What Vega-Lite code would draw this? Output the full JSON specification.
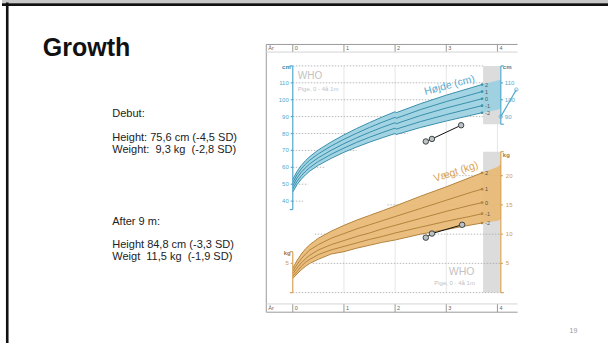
{
  "$schema": "https://vega.github.io/schema/vega-lite/v6.json",
  "width": 610,
  "height": 345,
  "autosize": {"type": "fit", "contains": "padding"},
  "padding": 0,
  "background": "white",
  "config": {"view": {"stroke": null}, "font": "Liberation Sans"},
  "datasets": {
    "height": [
      {"age": 0, "-2": 45.4, "-1": 47.3, "0": 49.1, "1": 51.0, "2": 52.9},
      {"age": 0.0833, "-2": 49.8, "-1": 51.7, "0": 53.7, "1": 55.6, "2": 57.6},
      {"age": 0.1667, "-2": 53.0, "-1": 55.0, "0": 57.1, "1": 59.1, "2": 61.1},
      {"age": 0.25, "-2": 55.6, "-1": 57.7, "0": 59.8, "1": 61.9, "2": 64.0},
      {"age": 0.3333, "-2": 57.8, "-1": 59.9, "0": 62.1, "1": 64.3, "2": 66.4},
      {"age": 0.5, "-2": 61.2, "-1": 63.5, "0": 65.7, "1": 68.0, "2": 70.3},
      {"age": 0.75, "-2": 65.3, "-1": 67.7, "0": 70.1, "1": 72.6, "2": 75.0},
      {"age": 1.0, "-2": 68.9, "-1": 71.4, "0": 74.0, "1": 76.6, "2": 79.2},
      {"age": 1.25, "-2": 72.0, "-1": 74.8, "0": 77.5, "1": 80.2, "2": 83.0},
      {"age": 1.5, "-2": 74.9, "-1": 77.8, "0": 80.7, "1": 83.6, "2": 86.5},
      {"age": 1.75, "-2": 77.5, "-1": 80.6, "0": 83.7, "1": 86.7, "2": 89.8},
      {"age": 2.0, "-2": 80.0, "-1": 83.2, "0": 86.4, "1": 89.6, "2": 92.9},
      {"age": 2.02, "-2": 79.4, "-1": 82.6, "0": 85.8, "1": 89.0, "2": 92.3},
      {"age": 2.5, "-2": 83.6, "-1": 87.1, "0": 90.7, "1": 94.2, "2": 97.7},
      {"age": 3.0, "-2": 87.4, "-1": 91.2, "0": 95.1, "1": 98.9, "2": 102.7},
      {"age": 3.5, "-2": 90.9, "-1": 95.0, "0": 99.0, "1": 103.1, "2": 107.2},
      {"age": 3.7, "-2": 92.3, "-1": 96.5, "0": 100.6, "1": 104.8, "2": 109.0},
      {"age": 4.0, "-2": 94.1, "-1": 98.4, "0": 102.7, "1": 107.0, "2": 111.3},
      {"age": 4.066, "-2": 94.6, "-1": 99.0, "0": 103.3, "1": 107.6, "2": 111.9}
    ],
    "weight": [
      {"age": 0, "-2": 2.4, "-1": 2.8, "0": 3.2, "1": 3.7, "2": 4.2},
      {"age": 0.0833, "-2": 3.2, "-1": 3.6, "0": 4.2, "1": 4.8, "2": 5.5},
      {"age": 0.1667, "-2": 3.9, "-1": 4.5, "0": 5.1, "1": 5.8, "2": 6.6},
      {"age": 0.25, "-2": 4.5, "-1": 5.2, "0": 5.8, "1": 6.6, "2": 7.5},
      {"age": 0.3333, "-2": 5.0, "-1": 5.7, "0": 6.4, "1": 7.3, "2": 8.2},
      {"age": 0.5, "-2": 5.7, "-1": 6.5, "0": 7.3, "1": 8.2, "2": 9.3},
      {"age": 0.75, "-2": 6.6, "-1": 7.3, "0": 8.2, "1": 9.3, "2": 10.5},
      {"age": 1.0, "-2": 7.0, "-1": 7.9, "0": 8.9, "1": 10.1, "2": 11.5},
      {"age": 1.25, "-2": 7.6, "-1": 8.5, "0": 9.6, "1": 10.9, "2": 12.4},
      {"age": 1.5, "-2": 8.1, "-1": 9.1, "0": 10.2, "1": 11.6, "2": 13.2},
      {"age": 1.75, "-2": 8.6, "-1": 9.6, "0": 10.9, "1": 12.3, "2": 14.0},
      {"age": 2.0, "-2": 9.0, "-1": 10.2, "0": 11.5, "1": 13.0, "2": 14.8},
      {"age": 2.5, "-2": 10.0, "-1": 11.2, "0": 12.7, "1": 14.4, "2": 16.5},
      {"age": 3.0, "-2": 10.8, "-1": 12.2, "0": 13.9, "1": 15.8, "2": 18.1},
      {"age": 3.5, "-2": 11.6, "-1": 13.1, "0": 15.0, "1": 17.2, "2": 19.8},
      {"age": 3.7, "-2": 11.9, "-1": 13.5, "0": 15.4, "1": 17.7, "2": 20.5},
      {"age": 4.0, "-2": 12.3, "-1": 14.0, "0": 16.1, "1": 18.5, "2": 21.5},
      {"age": 4.066, "-2": 12.5, "-1": 14.2, "0": 16.4, "1": 18.9, "2": 22.0}
    ]
  },
  "encoding": {
    "x": {"field": "age", "type": "quantitative", "scale": {"domain": [-5.6835, 6.1612], "nice": false, "zero": false}, "axis": null}
  },
  "resolve": {"scale": {"y": "independent"}},
  "layer": [
    {
      "data": {"values": [{"age": -5.6835, "age2": 6.1612, "cm": 158.1, "cm2": 158.1}]},
      "mark": {"type": "rule", "color": "#c8c8c8", "strokeWidth": 3},
      "encoding": {
        "x2": {"field": "age2"},
        "y": {"field": "cm", "type": "quantitative", "scale": {"domain": [-43.94, 159.0], "nice": false, "zero": false}, "axis": null},
        "y2": {"field": "cm2"}
      }
    },
    {
      "data": {"values": [
        {"age": -5.6835, "age2": 6.1612, "cm": 156.24, "cm2": 156.24},
        {"age": -5.581, "age2": -5.581, "cm": 157.5, "cm2": -43.94}
      ]},
      "mark": {"type": "rule", "color": "#111111", "strokeWidth": 2.6},
      "encoding": {
        "x2": {"field": "age2"},
        "y": {"field": "cm", "type": "quantitative", "scale": {"domain": [-43.94, 159.0], "nice": false, "zero": false}, "axis": null},
        "y2": {"field": "cm2"}
      }
    },
    {
      "data": {"values": [
        {"age": 1, "age2": 1, "cm": 120, "cm2": -14.1},
        {"age": 2, "age2": 2, "cm": 120, "cm2": -14.1},
        {"age": 3, "age2": 3, "cm": 120, "cm2": -14.1},
        {"age": 4, "age2": 4, "cm": 120, "cm2": -14.1}
      ]},
      "mark": {"type": "rule", "color": "#e6e6e6", "strokeWidth": 1},
      "encoding": {
        "x2": {"field": "age2"},
        "y": {"field": "cm", "type": "quantitative", "scale": {"domain": [-43.94, 159.0], "nice": false, "zero": false}, "axis": null},
        "y2": {"field": "cm2"}
      }
    },
    {
      "data": {"values": [
        {"age": -0.518, "age2": -0.518, "cm": 132.7, "cm2": -25.7},
        {"age": -0.518, "age2": 4.394, "cm": 132.7, "cm2": 132.7},
        {"age": 0, "age2": 0, "cm": 132.7, "cm2": 128.2},
        {"age": 1, "age2": 1, "cm": 132.7, "cm2": 128.2},
        {"age": 2, "age2": 2, "cm": 132.7, "cm2": 128.2},
        {"age": 3, "age2": 3, "cm": 132.7, "cm2": 128.2},
        {"age": 4, "age2": 4, "cm": 132.7, "cm2": 128.2}
      ]},
      "mark": {"type": "rule", "color": "#9a9a9a", "strokeWidth": 1},
      "encoding": {
        "x2": {"field": "age2"},
        "y": {"field": "cm", "type": "quantitative", "scale": {"domain": [-43.94, 159.0], "nice": false, "zero": false}, "axis": null},
        "y2": {"field": "cm2"}
      }
    },
    {
      "data": {"values": [
        {"age": -0.518, "age2": 4.394, "cm": 128.2, "cm2": 128.2}
      ]},
      "mark": {"type": "rule", "color": "#d4d4d4", "strokeWidth": 1},
      "encoding": {
        "x2": {"field": "age2"},
        "y": {"field": "cm", "type": "quantitative", "scale": {"domain": [-43.94, 159.0], "nice": false, "zero": false}, "axis": null},
        "y2": {"field": "cm2"}
      }
    },
    {
      "data": {"values": [
        {"age": -0.518, "age2": 4.394, "kg": -3.35, "kg2": -3.35},
        {"age": 0, "age2": 0, "kg": -1.94, "kg2": -3.35},
        {"age": 1, "age2": 1, "kg": -1.94, "kg2": -3.35},
        {"age": 2, "age2": 2, "kg": -1.94, "kg2": -3.35},
        {"age": 3, "age2": 3, "kg": -1.94, "kg2": -3.35},
        {"age": 4, "age2": 4, "kg": -1.94, "kg2": -3.35}
      ]},
      "mark": {"type": "rule", "color": "#9a9a9a", "strokeWidth": 1},
      "encoding": {
        "x2": {"field": "age2"},
        "y": {"field": "kg", "type": "quantitative", "scale": {"domain": [-8.62, 50.05], "nice": false, "zero": false}, "axis": null},
        "y2": {"field": "kg2"}
      }
    },
    {
      "data": {"values": [
        {"age": -0.518, "age2": 4.394, "kg": -1.94, "kg2": -1.94}
      ]},
      "mark": {"type": "rule", "color": "#d4d4d4", "strokeWidth": 1},
      "encoding": {
        "x2": {"field": "age2"},
        "y": {"field": "kg", "type": "quantitative", "scale": {"domain": [-8.62, 50.05], "nice": false, "zero": false}, "axis": null},
        "y2": {"field": "kg2"}
      }
    },
    {
      "data": {"values": [{"age": 3.72, "age2": 4.055, "cm": 85.5, "cm2": 120}]},
      "mark": {"type": "rect", "color": "#dcdcdc"},
      "encoding": {
        "x2": {"field": "age2"},
        "y": {"field": "cm", "type": "quantitative", "scale": {"domain": [-43.94, 159.0], "nice": false, "zero": false}, "axis": null},
        "y2": {"field": "cm2"}
      }
    },
    {
      "data": {"values": [{"age": 3.72, "age2": 4.055, "kg": 0, "kg2": 24.1}]},
      "mark": {"type": "rect", "color": "#dcdcdc"},
      "encoding": {
        "x2": {"field": "age2"},
        "y": {"field": "kg", "type": "quantitative", "scale": {"domain": [-8.62, 50.05], "nice": false, "zero": false}, "axis": null},
        "y2": {"field": "kg2"}
      }
    },
    {
      "data": {"values": [
        {"age": 0, "age2": 3.72, "cm": 120, "cm2": 120},
        {"age": 0, "age2": 3.72, "cm": 110, "cm2": 110},
        {"age": 0, "age2": 3.72, "cm": 100, "cm2": 100},
        {"age": 0, "age2": 3.72, "cm": 90, "cm2": 90},
        {"age": 0, "age2": 2.24, "cm": 80, "cm2": 80},
        {"age": 0, "age2": 1.25, "cm": 70, "cm2": 70},
        {"age": 0, "age2": 0.63, "cm": 60, "cm2": 60},
        {"age": 0, "age2": 0.3, "cm": 50, "cm2": 50},
        {"age": 0, "age2": 0.2, "cm": 40, "cm2": 40}
      ]},
      "mark": {"type": "rule", "color": "#a8a8a8", "strokeWidth": 0.8, "strokeDash": [1.5, 1.5]},
      "encoding": {
        "x2": {"field": "age2"},
        "y": {"field": "cm", "type": "quantitative", "scale": {"domain": [-43.94, 159.0], "nice": false, "zero": false}, "axis": null},
        "y2": {"field": "cm2"}
      }
    },
    {
      "data": {"values": [
        {"age": 0, "age2": 4.066, "kg": 0, "kg2": 0},
        {"age": 0.39, "age2": 4.066, "kg": 5, "kg2": 5},
        {"age": 0.43, "age2": 4.066, "kg": 10, "kg2": 10},
        {"age": 1.85, "age2": 4.066, "kg": 15, "kg2": 15},
        {"age": 2.9, "age2": 4.066, "kg": 20, "kg2": 20}
      ]},
      "mark": {"type": "rule", "color": "#a8a8a8", "strokeWidth": 0.8, "strokeDash": [1.5, 1.5]},
      "encoding": {
        "x2": {"field": "age2"},
        "y": {"field": "kg", "type": "quantitative", "scale": {"domain": [-8.62, 50.05], "nice": false, "zero": false}, "axis": null},
        "y2": {"field": "kg2"}
      }
    },
    {
      "data": {"name": "height"},
      "mark": {"type": "area", "color": "#98cfe1", "opacity": 0.9},
      "encoding": {
        "y": {"field": "-2", "type": "quantitative", "scale": {"domain": [-43.94, 159.0], "nice": false, "zero": false}, "axis": null},
        "y2": {"field": "2"}
      }
    },
    {
      "data": {"name": "height"},
      "transform": [
        {"filter": "datum.age <= 3.7"},
        {"fold": ["2", "1", "0", "-1", "-2"], "as": ["sd", "cm"]}
      ],
      "mark": {"type": "line", "color": "#3a8fab", "strokeWidth": 1},
      "encoding": {
        "y": {"field": "cm", "type": "quantitative", "scale": {"domain": [-43.94, 159.0], "nice": false, "zero": false}, "axis": null},
        "detail": {"field": "sd"}
      }
    },
    {
      "data": {"name": "height"},
      "transform": [
        {"filter": "datum.age == 3.7"},
        {"fold": ["2", "1", "0", "-1", "-2"], "as": ["sd", "cm"]}
      ],
      "layer": [
        {"mark": {"type": "point", "filled": true, "size": 7, "color": "#3a8fab", "opacity": 1}},
        {"mark": {"type": "text", "align": "left", "baseline": "middle", "dx": 3, "fontSize": 5.5, "color": "#555555"}, "encoding": {"text": {"field": "sd"}}}
      ],
      "encoding": {
        "y": {"field": "cm", "type": "quantitative", "scale": {"domain": [-43.94, 159.0], "nice": false, "zero": false}, "axis": null}
      }
    },
    {
      "data": {"name": "weight"},
      "mark": {"type": "area", "color": "#e8b873", "opacity": 0.92},
      "encoding": {
        "y": {"field": "-2", "type": "quantitative", "scale": {"domain": [-8.62, 50.05], "nice": false, "zero": false}, "axis": null},
        "y2": {"field": "2"}
      }
    },
    {
      "data": {"name": "weight"},
      "transform": [
        {"filter": "datum.age <= 3.7"},
        {"fold": ["2", "1", "0", "-1", "-2"], "as": ["sd", "kg"]}
      ],
      "mark": {"type": "line", "color": "#b4843e", "strokeWidth": 1},
      "encoding": {
        "y": {"field": "kg", "type": "quantitative", "scale": {"domain": [-8.62, 50.05], "nice": false, "zero": false}, "axis": null},
        "detail": {"field": "sd"}
      }
    },
    {
      "data": {"name": "weight"},
      "transform": [
        {"filter": "datum.age == 3.7"},
        {"fold": ["2", "1", "0", "-1", "-2"], "as": ["sd", "kg"]}
      ],
      "layer": [
        {"mark": {"type": "point", "filled": true, "size": 7, "color": "#b4843e", "opacity": 1}},
        {"mark": {"type": "text", "align": "left", "baseline": "middle", "dx": 3, "fontSize": 5.5, "color": "#555555"}, "encoding": {"text": {"field": "sd"}}}
      ],
      "encoding": {
        "y": {"field": "kg", "type": "quantitative", "scale": {"domain": [-8.62, 50.05], "nice": false, "zero": false}, "axis": null}
      }
    },
    {
      "data": {"values": [
        {"age": 0, "age2": 0, "cm": 35, "cm2": 120},
        {"age": 4.066, "age2": 4.066, "cm": 85.5, "cm2": 120},
        {"age": -0.058, "age2": 0, "cm": 120, "cm2": 120},
        {"age": -0.058, "age2": 0, "cm": 35, "cm2": 35},
        {"age": -0.04, "age2": 0, "cm": 110, "cm2": 110},
        {"age": -0.04, "age2": 0, "cm": 100, "cm2": 100},
        {"age": -0.04, "age2": 0, "cm": 90, "cm2": 90},
        {"age": -0.04, "age2": 0, "cm": 80, "cm2": 80},
        {"age": -0.04, "age2": 0, "cm": 70, "cm2": 70},
        {"age": -0.04, "age2": 0, "cm": 60, "cm2": 60},
        {"age": -0.04, "age2": 0, "cm": 50, "cm2": 50},
        {"age": -0.04, "age2": 0, "cm": 40, "cm2": 40},
        {"age": 4.066, "age2": 4.124, "cm": 120, "cm2": 120},
        {"age": 4.066, "age2": 4.124, "cm": 85.5, "cm2": 85.5},
        {"age": 4.066, "age2": 4.106, "cm": 110, "cm2": 110},
        {"age": 4.066, "age2": 4.106, "cm": 100, "cm2": 100},
        {"age": 4.066, "age2": 4.37, "cm": 90, "cm2": 106}
      ]},
      "mark": {"type": "rule", "color": "#52a9cd", "strokeWidth": 1.2},
      "encoding": {
        "x2": {"field": "age2"},
        "y": {"field": "cm", "type": "quantitative", "scale": {"domain": [-43.94, 159.0], "nice": false, "zero": false}, "axis": null},
        "y2": {"field": "cm2"}
      }
    },
    {
      "data": {"values": [{"age": 4.066, "cm": 90}, {"age": 4.37, "cm": 106}]},
      "mark": {"type": "point", "filled": false, "size": 12, "color": "#52a9cd", "strokeWidth": 1},
      "encoding": {
        "y": {"field": "cm", "type": "quantitative", "scale": {"domain": [-43.94, 159.0], "nice": false, "zero": false}, "axis": null}
      }
    },
    {
      "data": {"values": [
        {"age": 0, "age2": 0, "kg": 0, "kg2": 7},
        {"age": 4.066, "age2": 4.066, "kg": 0, "kg2": 24.1},
        {"age": -0.058, "age2": 0, "kg": 7, "kg2": 7},
        {"age": -0.04, "age2": 0, "kg": 5, "kg2": 5},
        {"age": -0.058, "age2": 0, "kg": 0, "kg2": 0},
        {"age": 4.066, "age2": 4.124, "kg": 24.1, "kg2": 24.1},
        {"age": 4.066, "age2": 4.106, "kg": 20, "kg2": 20},
        {"age": 4.066, "age2": 4.106, "kg": 15, "kg2": 15},
        {"age": 4.066, "age2": 4.106, "kg": 10, "kg2": 10},
        {"age": 4.066, "age2": 4.106, "kg": 5, "kg2": 5},
        {"age": 4.066, "age2": 4.124, "kg": 0, "kg2": 0}
      ]},
      "mark": {"type": "rule", "color": "#d9a254", "strokeWidth": 1.2},
      "encoding": {
        "x2": {"field": "age2"},
        "y": {"field": "kg", "type": "quantitative", "scale": {"domain": [-8.62, 50.05], "nice": false, "zero": false}, "axis": null},
        "y2": {"field": "kg2"}
      }
    },
    {
      "data": {"values": [
        {"age": 0, "cm": 110, "label": "110"},
        {"age": 0, "cm": 100, "label": "100"},
        {"age": 0, "cm": 90, "label": "90"},
        {"age": 0, "cm": 80, "label": "80"},
        {"age": 0, "cm": 70, "label": "70"},
        {"age": 0, "cm": 60, "label": "60"},
        {"age": 0, "cm": 50, "label": "50"},
        {"age": 0, "cm": 40, "label": "40"}
      ]},
      "mark": {"type": "text", "align": "right", "baseline": "middle", "dx": -4, "fontSize": 6, "color": "#52a9cd"},
      "encoding": {
        "y": {"field": "cm", "type": "quantitative", "scale": {"domain": [-43.94, 159.0], "nice": false, "zero": false}, "axis": null},
        "text": {"field": "label"}
      }
    },
    {
      "data": {"values": [
        {"age": 4.066, "cm": 110, "label": "110"},
        {"age": 4.066, "cm": 100, "label": "100"},
        {"age": 4.066, "cm": 90, "label": "90"}
      ]},
      "mark": {"type": "text", "align": "left", "baseline": "middle", "dx": 4, "fontSize": 6, "color": "#52a9cd"},
      "encoding": {
        "y": {"field": "cm", "type": "quantitative", "scale": {"domain": [-43.94, 159.0], "nice": false, "zero": false}, "axis": null},
        "text": {"field": "label"}
      }
    },
    {
      "data": {"values": [{"age": 0, "cm": 119.3, "label": "cm"}]},
      "mark": {"type": "text", "align": "right", "baseline": "middle", "dx": -2, "fontSize": 6, "fontWeight": "bold", "color": "#3f86a6"},
      "encoding": {
        "y": {"field": "cm", "type": "quantitative", "scale": {"domain": [-43.94, 159.0], "nice": false, "zero": false}, "axis": null},
        "text": {"field": "label"}
      }
    },
    {
      "data": {"values": [{"age": 4.066, "cm": 119.3, "label": "cm"}]},
      "mark": {"type": "text", "align": "left", "baseline": "middle", "dx": 2, "fontSize": 6, "fontWeight": "bold", "color": "#3f86a6"},
      "encoding": {
        "y": {"field": "cm", "type": "quantitative", "scale": {"domain": [-43.94, 159.0], "nice": false, "zero": false}, "axis": null},
        "text": {"field": "label"}
      }
    },
    {
      "data": {"values": [
        {"age": 4.066, "kg": 20, "label": "20"},
        {"age": 4.066, "kg": 15, "label": "15"},
        {"age": 4.066, "kg": 10, "label": "10"},
        {"age": 4.066, "kg": 5, "label": "5"}
      ]},
      "mark": {"type": "text", "align": "left", "baseline": "middle", "dx": 5, "fontSize": 6, "color": "#cf9a4e"},
      "encoding": {
        "y": {"field": "kg", "type": "quantitative", "scale": {"domain": [-8.62, 50.05], "nice": false, "zero": false}, "axis": null},
        "text": {"field": "label"}
      }
    },
    {
      "data": {"values": [{"age": 0, "kg": 5, "label": "5"}]},
      "mark": {"type": "text", "align": "right", "baseline": "middle", "dx": -4, "fontSize": 6, "color": "#cf9a4e"},
      "encoding": {
        "y": {"field": "kg", "type": "quantitative", "scale": {"domain": [-8.62, 50.05], "nice": false, "zero": false}, "axis": null},
        "text": {"field": "label"}
      }
    },
    {
      "data": {"values": [{"age": 0, "kg": 6.7, "label": "kg"}]},
      "mark": {"type": "text", "align": "right", "baseline": "middle", "dx": -2, "fontSize": 6, "fontWeight": "bold", "color": "#a8763a"},
      "encoding": {
        "y": {"field": "kg", "type": "quantitative", "scale": {"domain": [-8.62, 50.05], "nice": false, "zero": false}, "axis": null},
        "text": {"field": "label"}
      }
    },
    {
      "data": {"values": [{"age": 4.066, "kg": 23.5, "label": "kg"}]},
      "mark": {"type": "text", "align": "left", "baseline": "middle", "dx": 2, "fontSize": 6, "fontWeight": "bold", "color": "#a8763a"},
      "encoding": {
        "y": {"field": "kg", "type": "quantitative", "scale": {"domain": [-8.62, 50.05], "nice": false, "zero": false}, "axis": null},
        "text": {"field": "label"}
      }
    },
    {
      "data": {"values": [
        {"age": -0.518, "cm": 130.47, "label": "År"},
        {"age": 0, "cm": 130.47, "label": "0"},
        {"age": 1, "cm": 130.47, "label": "1"},
        {"age": 2, "cm": 130.47, "label": "2"},
        {"age": 3, "cm": 130.47, "label": "3"},
        {"age": 4, "cm": 130.47, "label": "4"}
      ]},
      "mark": {"type": "text", "align": "left", "baseline": "middle", "dx": 2, "fontSize": 5.5, "color": "#666666"},
      "encoding": {
        "y": {"field": "cm", "type": "quantitative", "scale": {"domain": [-43.94, 159.0], "nice": false, "zero": false}, "axis": null},
        "text": {"field": "label"}
      }
    },
    {
      "data": {"values": [
        {"age": -0.518, "kg": -2.67, "label": "År"},
        {"age": 0, "kg": -2.67, "label": "0"},
        {"age": 1, "kg": -2.67, "label": "1"},
        {"age": 2, "kg": -2.67, "label": "2"},
        {"age": 3, "kg": -2.67, "label": "3"},
        {"age": 4, "kg": -2.67, "label": "4"}
      ]},
      "mark": {"type": "text", "align": "left", "baseline": "middle", "dx": 2, "fontSize": 5.5, "color": "#666666"},
      "encoding": {
        "y": {"field": "kg", "type": "quantitative", "scale": {"domain": [-8.62, 50.05], "nice": false, "zero": false}, "axis": null},
        "text": {"field": "label"}
      }
    },
    {
      "data": {"values": [{"age": 0.097, "cm": 113.9, "label": "WHO"}]},
      "mark": {"type": "text", "align": "left", "baseline": "middle", "fontSize": 10, "color": "#c2c2c2"},
      "encoding": {
        "y": {"field": "cm", "type": "quantitative", "scale": {"domain": [-43.94, 159.0], "nice": false, "zero": false}, "axis": null},
        "text": {"field": "label"}
      }
    },
    {
      "data": {"values": [{"age": 0.097, "cm": 106.5, "label": "Pige, 0 - 4å 1m"}]},
      "mark": {"type": "text", "align": "left", "baseline": "middle", "fontSize": 6, "color": "#c2c2c2"},
      "encoding": {
        "y": {"field": "cm", "type": "quantitative", "scale": {"domain": [-43.94, 159.0], "nice": false, "zero": false}, "axis": null},
        "text": {"field": "label"}
      }
    },
    {
      "data": {"values": [{"age": 3.55, "kg": 3.57, "label": "WHO"}]},
      "mark": {"type": "text", "align": "right", "baseline": "middle", "fontSize": 10.5, "color": "#c2c2c2"},
      "encoding": {
        "y": {"field": "kg", "type": "quantitative", "scale": {"domain": [-8.62, 50.05], "nice": false, "zero": false}, "axis": null},
        "text": {"field": "label"}
      }
    },
    {
      "data": {"values": [{"age": 3.56, "kg": 1.58, "label": "Pige, 0 - 4å 1m"}]},
      "mark": {"type": "text", "align": "right", "baseline": "middle", "fontSize": 6, "color": "#c2c2c2"},
      "encoding": {
        "y": {"field": "kg", "type": "quantitative", "scale": {"domain": [-8.62, 50.05], "nice": false, "zero": false}, "axis": null},
        "text": {"field": "label"}
      }
    },
    {
      "data": {"values": [{"age": 3.064, "cm": 108.5, "label": "Højde (cm)"}]},
      "mark": {"type": "text", "align": "center", "baseline": "middle", "angle": -15, "fontSize": 10.5, "color": "#55acd1"},
      "encoding": {
        "y": {"field": "cm", "type": "quantitative", "scale": {"domain": [-43.94, 159.0], "nice": false, "zero": false}, "axis": null},
        "text": {"field": "label"}
      }
    },
    {
      "data": {"values": [{"age": 3.19, "kg": 20.63, "label": "Vægt (kg)"}]},
      "mark": {"type": "text", "align": "center", "baseline": "middle", "angle": -18, "fontSize": 10.5, "color": "#d9a254"},
      "encoding": {
        "y": {"field": "kg", "type": "quantitative", "scale": {"domain": [-8.62, 50.05], "nice": false, "zero": false}, "axis": null},
        "text": {"field": "label"}
      }
    },
    {
      "data": {"values": [{"age": 2.6, "cm": 75.3}, {"age": 2.72, "cm": 76.8}, {"age": 3.29, "cm": 84.9}]},
      "layer": [
        {"mark": {"type": "line", "color": "#111111", "strokeWidth": 1}},
        {"mark": {"type": "point", "filled": true, "size": 30, "color": "#b9c3c7", "stroke": "#333333", "strokeWidth": 0.9, "opacity": 1}}
      ],
      "encoding": {
        "y": {"field": "cm", "type": "quantitative", "scale": {"domain": [-43.94, 159.0], "nice": false, "zero": false}, "axis": null}
      }
    },
    {
      "data": {"values": [{"age": 2.6, "kg": 9.4}, {"age": 2.72, "kg": 10.1}, {"age": 3.31, "kg": 11.6}]},
      "layer": [
        {"mark": {"type": "line", "color": "#111111", "strokeWidth": 1}},
        {"mark": {"type": "point", "filled": true, "size": 30, "color": "#b9c3c7", "stroke": "#333333", "strokeWidth": 0.9, "opacity": 1}}
      ],
      "encoding": {
        "y": {"field": "kg", "type": "quantitative", "scale": {"domain": [-8.62, 50.05], "nice": false, "zero": false}, "axis": null}
      }
    },
    {
      "data": {"values": [{"age": -4.887, "cm": 126.06, "label": "Growth"}]},
      "mark": {"type": "text", "align": "left", "baseline": "alphabetic", "fontSize": 25, "fontWeight": "bold", "color": "#111111"},
      "encoding": {
        "y": {"field": "cm", "type": "quantitative", "scale": {"domain": [-43.94, 159.0], "nice": false, "zero": false}, "axis": null},
        "text": {"field": "label"}
      }
    },
    {
      "data": {"values": [
        {"age": -3.528, "cm": 91.35, "label": "Debut:"},
        {"age": -3.528, "cm": 77.24, "label": "Height: 75,6 cm (-4,5 SD)"},
        {"age": -3.528, "cm": 70.18, "label": "Weight:\u00a0 9,3 kg\u00a0 (-2,8 SD)"},
        {"age": -3.528, "cm": 27.65, "label": "After 9 m:"},
        {"age": -3.528, "cm": 13.88, "label": "Height 84,8 cm (-3,3 SD)"},
        {"age": -3.528, "cm": 7.06, "label": "Weigt\u00a0 11,5 kg\u00a0 (-1,9 SD)"}
      ]},
      "mark": {"type": "text", "align": "left", "baseline": "middle", "fontSize": 11, "color": "#222222"},
      "encoding": {
        "y": {"field": "cm", "type": "quantitative", "scale": {"domain": [-43.94, 159.0], "nice": false, "zero": false}, "axis": null},
        "text": {"field": "label"}
      }
    },
    {
      "data": {"values": [{"age": 5.485, "cm": -37.06, "label": "19"}]},
      "mark": {"type": "text", "align": "center", "baseline": "middle", "fontSize": 7, "color": "#999999"},
      "encoding": {
        "y": {"field": "cm", "type": "quantitative", "scale": {"domain": [-43.94, 159.0], "nice": false, "zero": false}, "axis": null},
        "text": {"field": "label"}
      }
    }
  ]
}
